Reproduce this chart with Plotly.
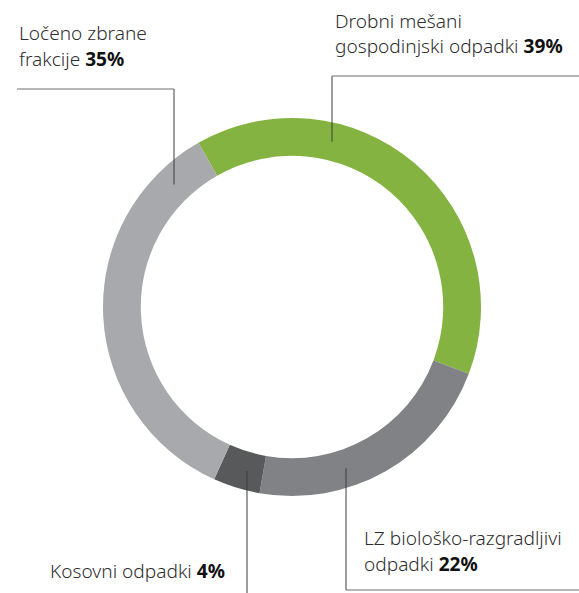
import math
import plotly.graph_objects as go

# Waste composition shares (%)
labels = ["Drobni mešani gospodinjski odpadki", "LZ biološko-razgradljivi odpadki",
          "Kosovni odpadki", "Ločeno zbrane frakcije"]
values = [39, 22, 4, 35]
colors = ["#84b341", "#818285", "#58595b", "#a8a9ac"]

# Callout text lines (plain part; the percentage goes bold on the last line)
callouts = [
    {"lines": ["Drobni mešani", "gospodinjski odpadki"], "pct": "39%"},
    {"lines": ["LZ biološko-razgradljivi", "odpadki"], "pct": "22%"},
    {"lines": ["Kosovni odpadki"], "pct": "4%"},
    {"lines": ["Ločeno zbrane", "frakcije"], "pct": "35%"},
]

W, H = 579, 593
cx, cy, R_OUT, HOLE = 292, 307, 189, 0.80
R_MID = R_OUT * (1 + HOLE) / 2
START = -29.7  # degrees, first slice start, clockwise from 12 o'clock

fig = go.Figure()
fig.add_trace(go.Pie(
    labels=labels, values=values, hole=HOLE, sort=False, direction="clockwise",
    rotation=START, marker=dict(colors=colors, line=dict(width=0)),
    textinfo="none", hoverinfo="label+percent", showlegend=False,
    domain=dict(x=[(cx - R_OUT) / W, (cx + R_OUT) / W],
                y=[1 - (cy + R_OUT) / H, 1 - (cy - R_OUT) / H]),
))


def ring_point(x, below):
    """Point on the ring's mid-line at horizontal position x."""
    dy = math.sqrt(R_MID ** 2 - (x - cx) ** 2)
    return x, (cy + dy) if below else (cy - dy)


# leader geometry: (dot x, ring side, elbow y, end x)
leaders = [
    (332, False, 76, W),    # Drobni
    (346, True, 590, W),    # LZ
    (247, True, H + 5, None),  # Kosovni (straight down)
    (174, False, 89, 17),   # Ločeno
]
line_col = "#3c3c3c"
shapes = []
dots_x, dots_y = [], []
for dx_, below, ey, ex in leaders:
    px, py = ring_point(dx_, below)
    dots_x.append(px)
    dots_y.append(py)
    shapes.append(dict(type="line", x0=px, y0=py, x1=px, y1=ey,
                       line=dict(color=line_col, width=1)))
    if ex is not None:
        shapes.append(dict(type="line", x0=px, y0=ey, x1=ex, y1=ey,
                           line=dict(color="#6d6d6d", width=1)))

fig.add_trace(go.Scatter(x=dots_x, y=dots_y, mode="markers",
                         marker=dict(size=4, color="#111"),
                         hoverinfo="skip", showlegend=False))

FS = 19.1
font = dict(family="Noto Sans", size=FS, color="#2e2e2e", weight=300)
# (x, first baseline, line step, anchor)
text_pos = [
    (333, 27, 25, "left"),
    (362, 544, 26, "left"),
    (227, 577, 26, "right"),
    (17, 39, 26, "left"),
]
annotations = []
for c, (tx, base, step, anchor) in zip(callouts, text_pos):
    n = len(c["lines"])
    for i, line in enumerate(c["lines"]):
        txt = line
        if i == n - 1:
            txt = f"{line} <b style='color:#111'>{c['pct']}</b>"
        annotations.append(dict(x=tx, y=base + i * step - 0.32 * FS,
                                xref="x", yref="y", text=txt,
                                showarrow=False, xanchor=anchor, yanchor="middle",
                                align="left", font=font))

fig.update_layout(
    width=W, height=H, margin=dict(l=0, r=0, t=0, b=0),
    paper_bgcolor="white", plot_bgcolor="rgba(0,0,0,0)",
    xaxis=dict(range=[0, W], visible=False, fixedrange=True),
    yaxis=dict(range=[H, 0], visible=False, fixedrange=True),
    shapes=shapes, annotations=annotations,
)

fig.write_html("out.html")
